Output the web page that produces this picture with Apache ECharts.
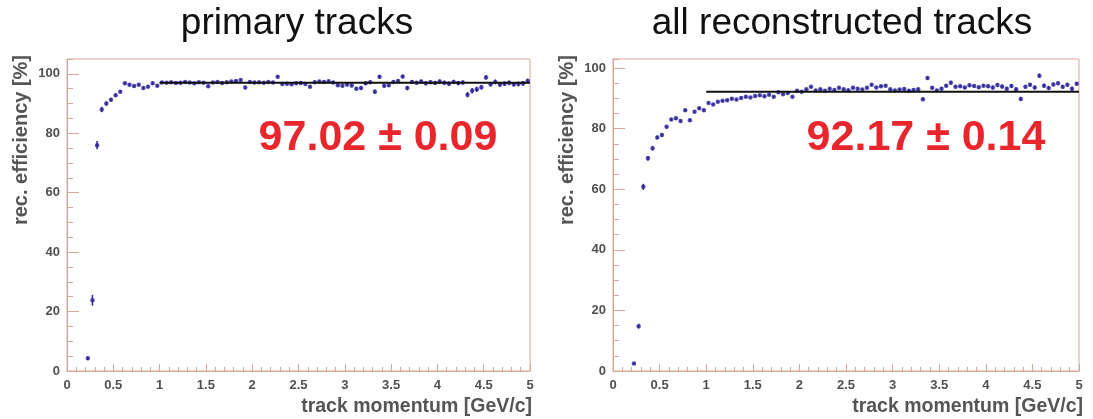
<!DOCTYPE html>
<html><head><meta charset="utf-8">
<script src="https://cdn.jsdelivr.net/npm/echarts@6/dist/echarts.min.js"></script>
<style>html,body{margin:0;padding:0;background:#fff}#c{width:1093px;height:419px}</style>
</head><body><div id="c"></div>
<script>
// ---------- DATA ----------
const panelTitles = ["primary tracks", "all reconstructed tracks"];
const xAxisName = "track momentum [GeV/c]";
const yAxisName = "rec. efficiency [%]";

// bin centres (GeV/c)
const momentum = [
  0.225,0.275,0.325,0.375,0.425,0.475,0.525,0.575,0.625,0.675,0.725,0.775,0.825,0.875,0.925,0.975,
  1.025,1.075,1.125,1.175,1.225,1.275,1.325,1.375,1.425,1.475,1.525,1.575,1.625,1.675,1.725,1.775,1.825,1.875,1.925,1.975,
  2.025,2.075,2.125,2.175,2.225,2.275,2.325,2.375,2.425,2.475,2.525,2.575,2.625,2.675,2.725,2.775,2.825,2.875,2.925,2.975,
  3.025,3.075,3.125,3.175,3.225,3.275,3.325,3.375,3.425,3.475,3.525,3.575,3.625,3.675,3.725,3.775,3.825,3.875,3.925,3.975,
  4.025,4.075,4.125,4.175,4.225,4.275,4.325,4.375,4.425,4.475,4.525,4.575,4.625,4.675,4.725,4.775,4.825,4.875,4.925,4.975
];

// primary tracks efficiency [%]
const primaryEff = [
  4.3,23.8,76.0,88.0,90.0,91.3,92.8,94.0,96.8,96.3,95.9,96.3,95.2,95.7,96.8,96.0,
  97.1,97.0,97.2,96.9,97.0,97.3,97.1,96.8,97.2,97.0,95.8,97.1,97.3,96.9,97.2,97.4,97.6,97.9,95.4,97.3,
  97.1,97.2,97.0,97.3,97.1,99.0,96.6,96.7,96.5,96.8,96.9,96.6,95.7,97.2,97.4,97.3,97.5,97.1,96.2,96.0,
  96.4,96.1,95.0,95.2,96.8,97.2,94.0,99.0,96.0,96.2,97.3,97.6,99.1,95.2,97.3,97.0,97.4,96.8,97.2,96.9,
  97.4,97.0,96.7,97.3,96.9,97.1,93.0,94.3,94.8,95.5,98.8,96.5,97.3,96.4,96.7,97.0,96.5,96.6,96.8,97.6
];
const primaryErr = [
  0.6,1.8,1.4,0.9,0.7,0.6,0.6,0.5,0.5,0.5,0.5,0.5,0.5,0.5,0.5,0.5,
  0.4,0.4,0.4,0.4,0.4,0.4,0.4,0.4,0.4,0.4,0.5,0.4,0.4,0.4,0.4,0.4,0.4,0.4,0.5,0.4,
  0.4,0.4,0.4,0.4,0.4,0.5,0.5,0.5,0.5,0.5,0.5,0.5,0.5,0.5,0.5,0.5,0.5,0.5,0.5,0.5,
  0.6,0.6,0.6,0.6,0.6,0.6,0.7,0.6,0.6,0.6,0.6,0.6,0.6,0.7,0.6,0.6,0.6,0.6,0.6,0.6,
  0.7,0.7,0.7,0.7,0.7,0.7,0.9,0.9,0.9,0.8,0.7,0.8,0.8,0.8,0.8,0.8,0.8,0.8,0.8,0.8
];

// all reconstructed tracks efficiency [%]
const allEff = [
  2.5,14.8,60.8,70.2,73.5,77.1,77.9,80.6,83.0,83.4,82.5,86.1,82.8,85.6,86.7,86.1,
  88.5,88.0,88.9,89.2,89.4,89.9,89.6,90.1,90.5,90.3,90.8,91.0,90.7,91.2,90.5,92.0,91.4,91.8,90.5,92.5,
  92.2,93.0,93.8,92.6,93.0,92.5,93.2,92.8,93.5,93.0,92.7,93.5,93.2,92.9,93.5,94.5,93.6,94.0,94.2,93.0,
  92.6,92.9,93.1,92.5,92.8,93.0,89.7,96.7,93.5,92.6,93.2,94.2,95.2,93.8,94.0,93.6,94.3,94.1,93.7,94.2,
  94.0,93.6,94.4,93.9,93.2,94.1,93.0,89.8,93.8,94.5,93.6,97.5,94.2,93.4,94.6,95.0,93.8,94.5,93.2,94.8
];
const allErr = [
  0.4,0.8,1.0,0.8,0.7,0.6,0.6,0.5,0.5,0.5,0.5,0.5,0.5,0.5,0.5,0.5,
  0.4,0.4,0.4,0.4,0.4,0.4,0.4,0.4,0.4,0.4,0.4,0.4,0.4,0.4,0.4,0.4,0.4,0.4,0.4,0.4,
  0.4,0.4,0.4,0.4,0.4,0.4,0.4,0.4,0.4,0.4,0.4,0.4,0.4,0.4,0.4,0.5,0.4,0.4,0.4,0.4,
  0.5,0.5,0.5,0.5,0.5,0.5,0.6,0.6,0.5,0.5,0.5,0.5,0.6,0.5,0.5,0.5,0.5,0.5,0.5,0.5,
  0.6,0.6,0.6,0.6,0.6,0.6,0.6,0.7,0.6,0.6,0.6,0.7,0.6,0.6,0.6,0.6,0.6,0.6,0.6,0.6
];

// constant fits over [1, 5] GeV/c
const fitRange = [1, 5];
const primaryFit = 97.02, primaryFitErr = 0.09;
const allFit = 92.17, allFitErr = 0.14;

const xTicks = [0, 0.5, 1, 1.5, 2, 2.5, 3, 3.5, 4, 4.5, 5];
const yTicks = [0, 20, 40, 60, 80, 100];

// ---------- STYLE ----------
const frameColor = '#d6a79c';
const labelColor = '#505050';
const pointColor = '#2c2399';
const fitColor = '#111111';
const redText = '#e8262c';
const FONT = 'Liberation Sans, Arial, sans-serif';

const grids = [
  {left: 67, top: 59, width: 463, height: 312, show: true, borderColor: frameColor, borderWidth: 1, backgroundColor: '#fff'},
  {left: 613, top: 59, width: 466, height: 312, show: true, borderColor: frameColor, borderWidth: 1, backgroundColor: '#fff'}
];
const yMax = [105, 103];

function xAxisFor(gi) {
  return {
    type: 'value', gridIndex: gi, min: xTicks[0], max: xTicks[xTicks.length - 1], interval: xTicks[1] - xTicks[0],
    axisLine: {show: true, lineStyle: {color: frameColor, width: 1}},
    axisTick: {show: true, inside: true, length: 7, lineStyle: {color: frameColor}},
    minorTick: {show: true, splitNumber: 5, length: 4, lineStyle: {color: frameColor}},
    splitLine: {show: false},
    axisLabel: {color: labelColor, fontWeight: 'bold', fontSize: 13, fontFamily: FONT, margin: 8,
      formatter: v => String(v)}
  };
}
function yAxisMain(gi) {
  return {
    type: 'value', gridIndex: gi, position: 'left', min: yTicks[0], max: yMax[gi], interval: yTicks[1] - yTicks[0],
    axisLine: {show: true, lineStyle: {color: frameColor, width: 1}},
    axisTick: {show: true, inside: true, length: 12, lineStyle: {color: frameColor}},
    splitLine: {show: false},
    axisLabel: {color: labelColor, fontWeight: 'bold', fontSize: 13, fontFamily: FONT, margin: 7,
      showMaxLabel: false, formatter: v => (yTicks.indexOf(v) >= 0 ? String(v) : '')}
  };
}
function yAxisMinor(gi) {
  return {
    type: 'value', gridIndex: gi, position: 'left', offset: 0, min: yTicks[0], max: yMax[gi], interval: 5,
    axisLine: {show: false}, axisLabel: {show: false}, splitLine: {show: false},
    axisTick: {show: true, inside: true, length: 6, lineStyle: {color: frameColor}}
  };
}

function pointsSeries(xi, yi, xs, ys) {
  return {type: 'scatter', xAxisIndex: xi, yAxisIndex: yi, symbol: 'circle', symbolSize: 4.5,
    itemStyle: {color: pointColor}, data: xs.map((x, i) => [x, ys[i]]), z: 3, silent: true};
}
function errSeries(xi, yi, xs, ys, es) {
  return {
    type: 'custom', xAxisIndex: xi, yAxisIndex: yi, silent: true, z: 2,
    encode: {x: 0, y: 1},
    data: xs.map((x, i) => [x, ys[i], es[i]]),
    renderItem(params, api) {
      const x = api.value(0), y = api.value(1), e = api.value(2);
      const p1 = api.coord([x, y - e]), p2 = api.coord([x, y + e]);
      return {type: 'line', shape: {x1: p1[0], y1: p1[1], x2: p2[0], y2: p2[1]},
        style: {stroke: pointColor, lineWidth: 1.5}};
    }
  };
}
function fitSeries(xi, yi, fit) {
  return {type: 'line', xAxisIndex: xi, yAxisIndex: yi, symbol: 'none', silent: true, z: 4,
    lineStyle: {color: fitColor, width: 2}, data: [[fitRange[0], fit], [fitRange[1], fit]]};
}

const chart = echarts.init(document.getElementById('c'), null, {renderer: 'canvas'});
chart.setOption({
  animation: false,
  backgroundColor: '#fff',
  grid: grids,
  xAxis: [xAxisFor(0), xAxisFor(1)],
  yAxis: [yAxisMain(0), yAxisMinor(0), yAxisMain(1), yAxisMinor(1)],
  series: [
    errSeries(0, 0, momentum, primaryEff, primaryErr),
    pointsSeries(0, 0, momentum, primaryEff),
    fitSeries(0, 0, primaryFit),
    errSeries(1, 2, momentum, allEff, allErr),
    pointsSeries(1, 2, momentum, allEff),
    fitSeries(1, 2, allFit)
  ],
  graphic: [
    {type: 'text', x: 297, y: 24, style: {text: panelTitles[0], font: '37px ' + FONT, fill: '#111', textAlign: 'center', textVerticalAlign: 'middle'}},
    {type: 'text', x: 842, y: 24, style: {text: panelTitles[1], font: '37px ' + FONT, fill: '#111', textAlign: 'center', textVerticalAlign: 'middle'}},
    {type: 'text', x: 378, y: 138, style: {text: primaryFit.toFixed(2) + ' \u00b1 ' + primaryFitErr.toFixed(2), font: 'bold 43px ' + FONT, fill: redText, textAlign: 'center', textVerticalAlign: 'middle'}},
    {type: 'text', x: 926, y: 138, style: {text: allFit.toFixed(2) + ' \u00b1 ' + allFitErr.toFixed(2), font: 'bold 43px ' + FONT, fill: redText, textAlign: 'center', textVerticalAlign: 'middle'}},
    {type: 'text', x: 21, y: 140, rotation: Math.PI / 2, style: {text: yAxisName, font: 'bold 20px ' + FONT, fill: '#555', textAlign: 'center', textVerticalAlign: 'middle'}},
    {type: 'text', x: 567, y: 140, rotation: Math.PI / 2, style: {text: yAxisName, font: 'bold 20px ' + FONT, fill: '#555', textAlign: 'center', textVerticalAlign: 'middle'}},
    {type: 'text', x: 532, y: 407, style: {text: xAxisName, font: 'bold 19.5px ' + FONT, fill: '#555', textAlign: 'right', textVerticalAlign: 'middle'}},
    {type: 'text', x: 1083, y: 407, style: {text: xAxisName, font: 'bold 19.5px ' + FONT, fill: '#555', textAlign: 'right', textVerticalAlign: 'middle'}}
  ]
});
</script>
</body></html>
